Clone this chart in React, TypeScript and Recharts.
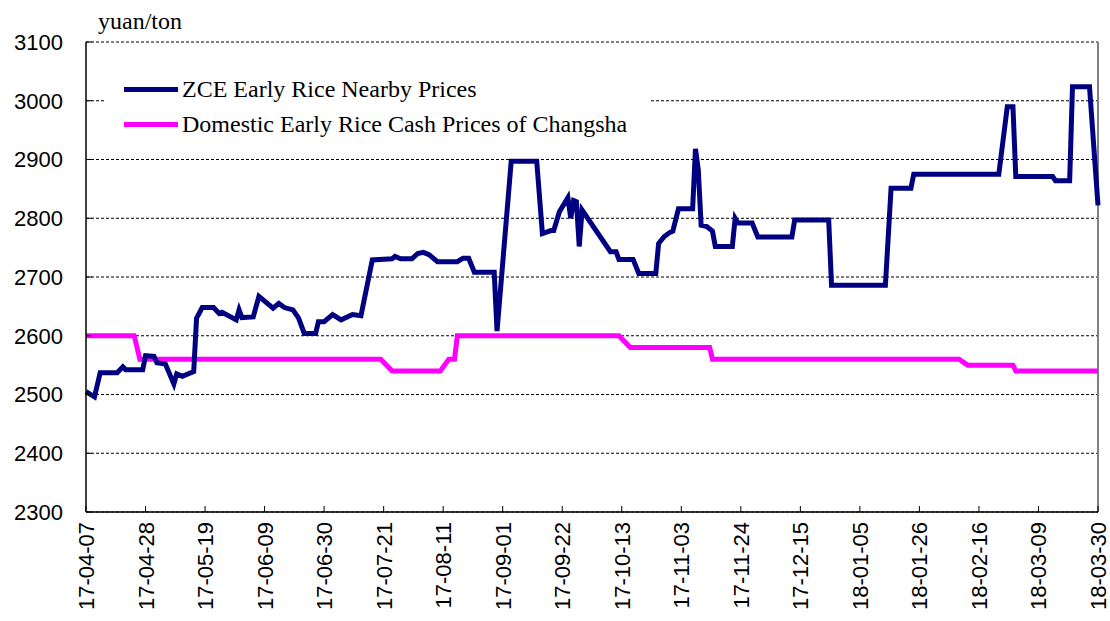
import React from "react";
import { LineChart, Line, XAxis, YAxis, CartesianGrid, ReferenceLine } from "recharts";

// x-axis tick labels (yy-mm-dd)
const tickLabels = [
  "17-04-07", "17-04-28", "17-05-19", "17-06-09", "17-06-30", "17-07-21",
  "17-08-11", "17-09-01", "17-09-22", "17-10-13", "17-11-03", "17-11-24",
  "17-12-15", "18-01-05", "18-01-26", "18-02-16", "18-03-09", "18-03-30",
];
const yTicks = [2300, 2400, 2500, 2600, 2700, 2800, 2900, 3000, 3100];

const seriesNames = [
  "ZCE Early Rice Nearby Prices",
  "Domestic Early Rice Cash Prices of Changsha",
];
const seriesColors = ["#000080", "#FF00FF"];

// days since 17-04-07
const zceDays = [
  0, 3, 5, 11, 13, 14, 20, 21, 24, 25,
  28, 31, 32, 34, 38, 39, 41, 45, 47, 48,
  53, 54, 55, 59, 61, 66, 68, 70, 73, 75,
  77, 81, 82, 84, 87, 90, 94, 97, 101, 108,
  109, 111, 115, 117, 119, 121, 124, 131, 133, 135,
  137, 144, 145, 150, 159, 161, 164, 165, 167, 170,
  171, 172, 173, 174, 175, 185, 187, 188, 193, 195,
  201, 202, 204, 206, 207, 209, 214, 215, 216, 217,
  219, 221, 222, 228, 229, 230, 235, 237, 249, 250,
  262, 263, 282, 284, 291, 292, 322, 325, 327, 328,
  341, 342, 347, 348, 354, 357,
];
const zceValues = [
  2505, 2496, 2537, 2537, 2547, 2542, 2542, 2566, 2565, 2554,
  2552, 2518, 2535, 2531, 2539, 2630, 2648, 2648, 2638, 2640,
  2627, 2644, 2631, 2632, 2667, 2647, 2655, 2648, 2644, 2630,
  2604, 2604, 2624, 2624, 2636, 2627, 2636, 2634, 2729, 2731,
  2735, 2731, 2731, 2740, 2742, 2738, 2726, 2726, 2732, 2732,
  2708, 2708, 2608, 2897, 2897, 2774, 2779, 2779, 2811, 2835,
  2800, 2830, 2828, 2752, 2814, 2743, 2743, 2730, 2730, 2706,
  2706, 2757, 2769, 2776, 2778, 2816, 2816, 2918, 2882, 2788,
  2786, 2778, 2752, 2752, 2800, 2792, 2792, 2768, 2768, 2797,
  2797, 2686, 2686, 2851, 2851, 2875, 2875, 2990, 2990, 2871,
  2871, 2864, 2864, 3024, 3024, 2822,
];

const cashDays = [0, 17, 19, 104, 108, 125, 128, 130, 131, 188, 192, 220, 221, 308, 311, 327, 328, 357];
const cashValues = [2600, 2600, 2560, 2560, 2540, 2540, 2560, 2560, 2600, 2600, 2580, 2580, 2560, 2560, 2550, 2550, 2540, 2540];

const DAY = 86400000;
const base = Date.UTC(2017, 3, 7);
const dayOf = (label: string) => {
  const [yy, mm, dd] = label.split("-").map(Number);
  return Math.round((Date.UTC(2000 + yy, mm - 1, dd) - base) / DAY);
};
const tickDays = tickLabels.map(dayOf);
const labelByDay: Record<number, string> = {};
tickDays.forEach((d, i) => (labelByDay[d] = tickLabels[i]));

const zceData = zceDays.map((d, i) => ({ d, v: zceValues[i] }));
const cashData = cashDays.map((d, i) => ({ d, v: cashValues[i] }));

const SANS = "'Liberation Sans', Arial, sans-serif";
const SERIF = "'Liberation Serif', 'Times New Roman', serif";

const XTick = (props: any) => {
  const { x, y, payload } = props;
  return (
    <g>
      <line x1={x} x2={x} y1={y} y2={y - 6} stroke="#000" strokeWidth={1} />
      <text
        transform={`translate(${x + 8},${y + 10}) rotate(-90)`}
        textAnchor="end"
        fontFamily={SANS}
        fontSize={22}
        fill="#000"
      >
        {labelByDay[payload.value]}
      </text>
    </g>
  );
};

const YTick = (props: any) => {
  const { x, y, payload } = props;
  return (
    <g>
      <line x1={x} x2={x + 6} y1={y} y2={y} stroke="#000" strokeWidth={1} />
      <text x={x - 23} y={y} dy="0.36em" textAnchor="end" fontFamily={SANS} fontSize={22} fill="#000">
        {payload.value}
      </text>
    </g>
  );
};

export default function App() {
  return (
    <div style={{ position: "absolute", left: 0, top: 0, width: 1110, height: 621, background: "#fff" }}>
      <LineChart width={1110} height={621} margin={{ top: 42, right: 12, bottom: 0, left: 0 }}>
        <CartesianGrid horizontal vertical={false} stroke="#000" strokeDasharray="3 2" strokeWidth={1} />
        <XAxis
          dataKey="d"
          type="number"
          domain={[0, 357]}
          ticks={tickDays}
          allowDuplicatedCategory={false}
          height={109}
          tickSize={0}
          tickMargin={0}
          tickLine={false}
          axisLine={{ stroke: "#000", strokeWidth: 1.5 }}
          tick={<XTick />}
          interval={0}
        />
        <YAxis
          type="number"
          domain={[2300, 3100]}
          ticks={yTicks}
          width={86}
          tickSize={0}
          tickMargin={0}
          tickLine={false}
          axisLine={{ stroke: "#000", strokeWidth: 1.5 }}
          tick={<YTick />}
          interval={0}
        />
        <ReferenceLine x={357} stroke="#808080" strokeWidth={2} />
        <Line
          data={cashData}
          dataKey="v"
          name={seriesNames[1]}
          stroke={seriesColors[1]}
          strokeWidth={5}
          dot={false}
          type="linear"
          isAnimationActive={false}
        />
        <Line
          data={zceData}
          dataKey="v"
          name={seriesNames[0]}
          stroke={seriesColors[0]}
          strokeWidth={5}
          dot={false}
          type="linear"
          isAnimationActive={false}
        />
      </LineChart>
      <div
        style={{
          position: "absolute",
          left: 98,
          top: 7,
          fontFamily: SERIF,
          fontSize: 24,
          lineHeight: "28px",
          color: "#000",
        }}
      >
        yuan/ton
      </div>
      <div
        style={{
          position: "absolute",
          left: 105,
          top: 62,
          width: 544,
          height: 82,
          background: "#fff",
        }}
      >
        {seriesNames.map((name, i) => (
          <div
            key={name}
            style={{ position: "absolute", left: 19, top: 10 + i * 35, height: 35, display: "flex", alignItems: "center" }}
          >
            <div style={{ width: 54, height: 5, background: seriesColors[i] }} />
            <span style={{ marginLeft: 4, fontFamily: SERIF, fontSize: 24, color: "#000", whiteSpace: "nowrap" }}>
              {name}
            </span>
          </div>
        ))}
      </div>
    </div>
  );
}
